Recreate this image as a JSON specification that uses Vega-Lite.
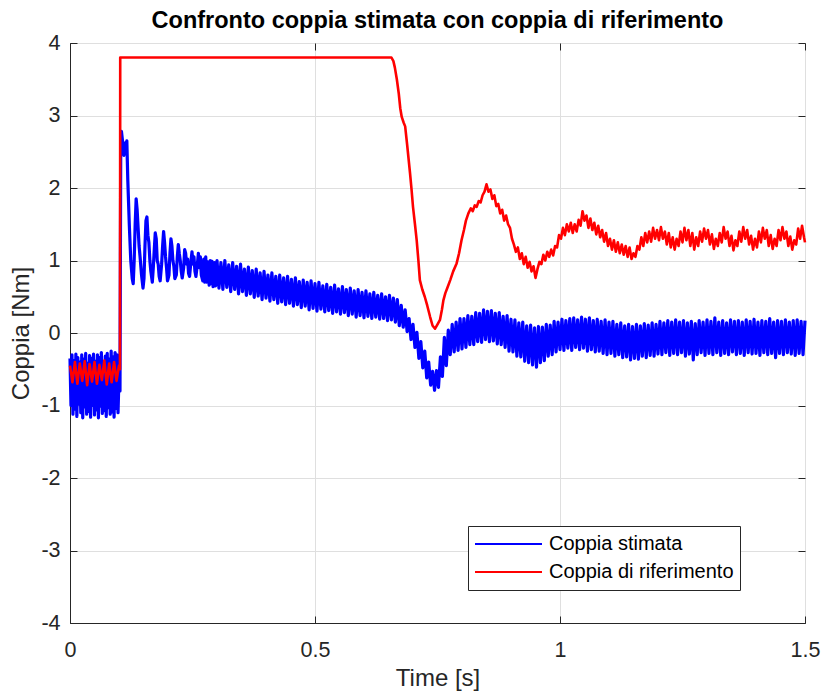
{
  "$schema": "https://vega.github.io/schema/vega-lite/v6.json",
  "width": 735,
  "height": 580,
  "autosize": {"type": "none"},
  "padding": {"left": 70, "top": 43, "right": 18, "bottom": 74},
  "background": "#ffffff",
  "title": {"text": "Confronto coppia stimata con coppia di riferimento", "fontSize": 23.5, "fontWeight": "bold", "color": "#000000", "font": "Liberation Sans", "offset": 0},
  "config": {
    "font": "Liberation Sans",
    "view": {"stroke": "#262626", "strokeWidth": 1},
    "axis": {"domainColor": "#262626", "tickColor": "#262626", "labelColor": "#262626", "titleColor": "#262626", "gridColor": "#dfdfdf", "gridWidth": 1, "labelFontSize": 21.5, "titleFontSize": 24, "titleFontWeight": "normal", "labelFont": "Liberation Sans", "titleFont": "Liberation Sans", "tickSize": -7, "labelFlush": false}
  },
  "resolve": {"axis": {"x": "independent", "y": "independent"}},
  "datasets": {
    "est": [
      {"t":0,"v":-0.35},{"t":0.002,"v":-1.0},{"t":0.004,"v":-0.3},{"t":0.006,"v":-1.12},{"t":0.008,"v":-0.38},{"t":0.01,"v":-1.05},{"t":0.012,"v":-0.29},{"t":0.014,"v":-1.15},{"t":0.016,"v":-0.34},{"t":0.018,"v":-0.98},{"t":0.02,"v":-0.4},{"t":0.022,"v":-1.1},{"t":0.024,"v":-0.3},{"t":0.026,"v":-1.17},{"t":0.028,"v":-0.36},{"t":0.03,"v":-1.02},{"t":0.032,"v":-0.28},{"t":0.034,"v":-1.12},{"t":0.036,"v":-0.42},{"t":0.038,"v":-1.08},{"t":0.04,"v":-0.31},{"t":0.042,"v":-1.16},{"t":0.044,"v":-0.35},{"t":0.046,"v":-1.0},{"t":0.048,"v":-0.29},{"t":0.05,"v":-1.13},{"t":0.052,"v":-0.39},{"t":0.054,"v":-1.06},{"t":0.056,"v":-0.3},{"t":0.058,"v":-1.17},{"t":0.06,"v":-0.34},{"t":0.062,"v":-1.01},{"t":0.064,"v":-0.27},{"t":0.066,"v":-1.11},{"t":0.068,"v":-0.41},{"t":0.07,"v":-1.07},{"t":0.072,"v":-0.32},{"t":0.074,"v":-1.15},{"t":0.076,"v":-0.28},{"t":0.078,"v":-1.03},{"t":0.08,"v":-0.36},{"t":0.082,"v":-1.12},{"t":0.084,"v":-0.25},{"t":0.086,"v":-1.09},{"t":0.088,"v":-0.33},{"t":0.09,"v":-1.16},{"t":0.092,"v":-0.27},{"t":0.094,"v":-1.04},{"t":0.096,"v":-0.3},{"t":0.098,"v":-1.1},{"t":0.1,"v":-0.6},{"t":0.102,"v":-0.8},
      {"t":0.1035,"v":2.5},{"t":0.105,"v":2.78},{"t":0.108,"v":2.6},{"t":0.11,"v":2.45},{"t":0.112,"v":2.62},{"t":0.114,"v":2.55},{"t":0.116,"v":2.65},{"t":0.118,"v":2.1},{"t":0.121,"v":1.5},{"t":0.124,"v":1.0},{"t":0.127,"v":0.75},{"t":0.129,"v":0.68},{"t":0.131,"v":1.0},{"t":0.133,"v":1.5},{"t":0.135,"v":1.85},{"t":0.137,"v":1.7},{"t":0.139,"v":1.45},{"t":0.141,"v":1.2},{"t":0.143,"v":1.05},{"t":0.146,"v":0.8},{"t":0.149,"v":0.62},{"t":0.151,"v":0.75},{"t":0.153,"v":1.2},{"t":0.155,"v":1.55},{"t":0.157,"v":1.6},{"t":0.159,"v":1.35},{"t":0.161,"v":1.25},{"t":0.163,"v":1.0},{"t":0.165,"v":0.85},{"t":0.168,"v":0.7},{"t":0.17,"v":0.9},{"t":0.172,"v":1.15},{"t":0.174,"v":1.38},{"t":0.176,"v":1.3},{"t":0.178,"v":1.0},{"t":0.18,"v":0.95},{"t":0.182,"v":0.78},{"t":0.184,"v":0.72},{"t":0.187,"v":0.95},{"t":0.189,"v":1.2},{"t":0.191,"v":1.4},{"t":0.193,"v":1.25},{"t":0.195,"v":1.05},{"t":0.197,"v":0.9},{"t":0.199,"v":0.72},{"t":0.202,"v":0.8},{"t":0.204,"v":1.1},{"t":0.206,"v":1.3},{"t":0.208,"v":1.2},{"t":0.21,"v":1.0},{"t":0.212,"v":0.92},{"t":0.214,"v":0.75},{"t":0.217,"v":0.8},{"t":0.219,"v":1.05},{"t":0.221,"v":1.22},{"t":0.223,"v":1.1},{"t":0.225,"v":1.0},{"t":0.227,"v":0.85},{"t":0.229,"v":0.76},{"t":0.232,"v":0.9},{"t":0.234,"v":1.15},{"t":0.236,"v":1.1},{"t":0.238,"v":0.95},{"t":0.24,"v":1.02},{"t":0.242,"v":0.82},{"t":0.244,"v":0.78},{"t":0.247,"v":1.0},{"t":0.249,"v":1.12},{"t":0.251,"v":0.95},{"t":0.253,"v":1.05},{"t":0.255,"v":0.85},{"t":0.257,"v":0.78},{"t":0.26,"v":0.95},{"t":0.262,"v":1.1},{"t":0.264,"v":0.9},{"t":0.266,"v":1.05},{"t":0.268,"v":0.8},{"t":0.271,"v":0.72},{"t":0.273,"v":1.02},{"t":0.275,"v":0.7},{"t":0.277,"v":1.05},{"t":0.279,"v":0.7},{"t":0.281,"v":0.98},{"t":0.284,"v":0.66},{"t":0.286,"v":1.0},{"t":0.288,"v":0.68},{"t":0.29,"v":0.99},{"t":0.292,"v":0.64},{"t":0.295,"v":0.97},{"t":0.297,"v":0.65},
      {"t":0.3,"v":1.0},{"t":0.304,"v":0.62},{"t":0.308,"v":0.97},{"t":0.312,"v":0.6},{"t":0.316,"v":1.0},{"t":0.32,"v":0.63},{"t":0.324,"v":0.94},{"t":0.328,"v":0.57},{"t":0.332,"v":0.97},{"t":0.336,"v":0.6},{"t":0.34,"v":0.92},{"t":0.344,"v":0.54},{"t":0.348,"v":0.95},{"t":0.352,"v":0.57},{"t":0.356,"v":0.88},{"t":0.36,"v":0.52},{"t":0.364,"v":0.91},{"t":0.368,"v":0.54},{"t":0.372,"v":0.86},{"t":0.376,"v":0.49},{"t":0.38,"v":0.88},{"t":0.384,"v":0.51},{"t":0.388,"v":0.83},{"t":0.392,"v":0.46},{"t":0.396,"v":0.85},{"t":0.4,"v":0.48},{"t":0.404,"v":0.8},{"t":0.408,"v":0.44},{"t":0.412,"v":0.83},{"t":0.416,"v":0.46},{"t":0.42,"v":0.78},{"t":0.424,"v":0.41},{"t":0.428,"v":0.8},{"t":0.432,"v":0.43},{"t":0.436,"v":0.76},{"t":0.44,"v":0.39},{"t":0.444,"v":0.78},{"t":0.448,"v":0.41},{"t":0.452,"v":0.74},{"t":0.456,"v":0.37},{"t":0.46,"v":0.76},{"t":0.464,"v":0.39},{"t":0.468,"v":0.71},{"t":0.472,"v":0.35},{"t":0.476,"v":0.73},{"t":0.48,"v":0.37},{"t":0.484,"v":0.7},{"t":0.488,"v":0.32},{"t":0.492,"v":0.72},{"t":0.496,"v":0.34},{"t":0.5,"v":0.68},{"t":0.504,"v":0.3},{"t":0.508,"v":0.7},{"t":0.512,"v":0.33},{"t":0.516,"v":0.65},{"t":0.52,"v":0.29},{"t":0.524,"v":0.67},{"t":0.528,"v":0.31},{"t":0.532,"v":0.63},{"t":0.536,"v":0.27},{"t":0.54,"v":0.66},{"t":0.544,"v":0.29},{"t":0.548,"v":0.61},{"t":0.552,"v":0.26},{"t":0.556,"v":0.64},{"t":0.56,"v":0.28},{"t":0.564,"v":0.6},{"t":0.568,"v":0.24},{"t":0.572,"v":0.62},{"t":0.576,"v":0.26},{"t":0.58,"v":0.58},{"t":0.584,"v":0.22},{"t":0.588,"v":0.6},{"t":0.592,"v":0.24},{"t":0.596,"v":0.56},{"t":0.6,"v":0.21},{"t":0.604,"v":0.58},{"t":0.608,"v":0.23},{"t":0.612,"v":0.54},{"t":0.616,"v":0.2},{"t":0.62,"v":0.56},{"t":0.624,"v":0.22},{"t":0.628,"v":0.52},{"t":0.632,"v":0.19},{"t":0.636,"v":0.54},{"t":0.64,"v":0.2},{"t":0.644,"v":0.5},{"t":0.648,"v":0.17},{"t":0.652,"v":0.52},{"t":0.656,"v":0.18},{"t":0.66,"v":0.48},
      {"t":0.664,"v":0.15},{"t":0.668,"v":0.46},{"t":0.672,"v":0.1},{"t":0.676,"v":0.38},{"t":0.68,"v":0.08},{"t":0.684,"v":0.32},{"t":0.688,"v":0.02},{"t":0.692,"v":0.2},{"t":0.696,"v":-0.09},{"t":0.7,"v":0.12},{"t":0.704,"v":-0.2},{"t":0.708,"v":0.01},{"t":0.712,"v":-0.35},{"t":0.716,"v":-0.12},{"t":0.72,"v":-0.48},{"t":0.724,"v":-0.25},{"t":0.728,"v":-0.62},{"t":0.732,"v":-0.4},{"t":0.736,"v":-0.72},{"t":0.74,"v":-0.53},{"t":0.744,"v":-0.79},{"t":0.748,"v":-0.52},{"t":0.752,"v":-0.75},{"t":0.756,"v":-0.33},{"t":0.76,"v":-0.6},{"t":0.764,"v":-0.06},{"t":0.768,"v":-0.45},{"t":0.772,"v":0.04},{"t":0.776,"v":-0.3},{"t":0.78,"v":0.12},{"t":0.784,"v":-0.26},{"t":0.788,"v":0.15},{"t":0.792,"v":-0.24},{"t":0.796,"v":0.2},{"t":0.8,"v":-0.22},{"t":0.804,"v":0.2},{"t":0.808,"v":-0.2},{"t":0.812,"v":0.24},{"t":0.816,"v":-0.16},{"t":0.82,"v":0.23},{"t":0.824,"v":-0.16},{"t":0.828,"v":0.28},{"t":0.832,"v":-0.12},{"t":0.836,"v":0.27},{"t":0.84,"v":-0.13},{"t":0.844,"v":0.32},{"t":0.848,"v":-0.09},{"t":0.852,"v":0.3},{"t":0.856,"v":-0.12},{"t":0.86,"v":0.31},{"t":0.864,"v":-0.11},{"t":0.868,"v":0.27},{"t":0.872,"v":-0.15},{"t":0.876,"v":0.28},{"t":0.88,"v":-0.16},{"t":0.884,"v":0.23},{"t":0.888,"v":-0.2},{"t":0.892,"v":0.24},{"t":0.896,"v":-0.25},{"t":0.9,"v":0.19},{"t":0.904,"v":-0.26},{"t":0.908,"v":0.18},{"t":0.912,"v":-0.32},{"t":0.916,"v":0.14},{"t":0.92,"v":-0.33},{"t":0.924,"v":0.15},{"t":0.928,"v":-0.39},{"t":0.932,"v":0.1},{"t":0.936,"v":-0.41},{"t":0.94,"v":0.11},{"t":0.944,"v":-0.44},{"t":0.948,"v":0.07},{"t":0.952,"v":-0.47},{"t":0.956,"v":0.09},{"t":0.96,"v":-0.41},{"t":0.964,"v":0.08},{"t":0.968,"v":-0.38},{"t":0.972,"v":0.12},{"t":0.976,"v":-0.32},{"t":0.98,"v":0.11},{"t":0.984,"v":-0.3},{"t":0.988,"v":0.16},{"t":0.992,"v":-0.26},{"t":0.996,"v":0.15},{"t":1.0,"v":-0.23},
      {"t":1.004,"v":0.19},{"t":1.008,"v":-0.24},{"t":1.012,"v":0.17},{"t":1.016,"v":-0.21},{"t":1.02,"v":0.2},{"t":1.024,"v":-0.24},{"t":1.028,"v":0.21},{"t":1.032,"v":-0.2},{"t":1.036,"v":0.18},{"t":1.04,"v":-0.23},{"t":1.044,"v":0.22},{"t":1.048,"v":-0.21},{"t":1.052,"v":0.19},{"t":1.056,"v":-0.25},{"t":1.06,"v":0.21},{"t":1.064,"v":-0.23},{"t":1.068,"v":0.17},{"t":1.072,"v":-0.26},{"t":1.076,"v":0.19},{"t":1.08,"v":-0.25},{"t":1.084,"v":0.16},{"t":1.088,"v":-0.28},{"t":1.092,"v":0.18},{"t":1.096,"v":-0.3},{"t":1.1,"v":0.15},{"t":1.104,"v":-0.28},{"t":1.108,"v":0.16},{"t":1.112,"v":-0.32},{"t":1.116,"v":0.12},{"t":1.12,"v":-0.3},{"t":1.124,"v":0.14},{"t":1.128,"v":-0.34},{"t":1.132,"v":0.1},{"t":1.136,"v":-0.33},{"t":1.14,"v":0.12},{"t":1.144,"v":-0.37},{"t":1.148,"v":0.09},{"t":1.152,"v":-0.35},{"t":1.156,"v":0.12},{"t":1.16,"v":-0.36},{"t":1.164,"v":0.1},{"t":1.168,"v":-0.32},{"t":1.172,"v":0.13},{"t":1.176,"v":-0.34},{"t":1.18,"v":0.11},{"t":1.184,"v":-0.31},{"t":1.188,"v":0.14},{"t":1.192,"v":-0.32},{"t":1.196,"v":0.12},{"t":1.2,"v":-0.29},
      {"t":1.204,"v":0.16},{"t":1.208,"v":-0.3},{"t":1.212,"v":0.14},{"t":1.216,"v":-0.27},{"t":1.22,"v":0.17},{"t":1.224,"v":-0.31},{"t":1.228,"v":0.15},{"t":1.232,"v":-0.28},{"t":1.236,"v":0.18},{"t":1.24,"v":-0.3},{"t":1.244,"v":0.15},{"t":1.248,"v":-0.27},{"t":1.252,"v":0.17},{"t":1.256,"v":-0.32},{"t":1.26,"v":0.14},{"t":1.264,"v":-0.29},{"t":1.268,"v":0.16},{"t":1.272,"v":-0.37},{"t":1.276,"v":0.13},{"t":1.28,"v":-0.3},{"t":1.284,"v":0.17},{"t":1.288,"v":-0.27},{"t":1.292,"v":0.15},{"t":1.296,"v":-0.31},{"t":1.3,"v":0.18},{"t":1.304,"v":-0.28},{"t":1.308,"v":0.16},{"t":1.312,"v":-0.3},{"t":1.316,"v":0.21},{"t":1.32,"v":-0.27},{"t":1.324,"v":0.15},{"t":1.328,"v":-0.31},{"t":1.332,"v":0.17},{"t":1.336,"v":-0.28},{"t":1.34,"v":0.14},{"t":1.344,"v":-0.3},{"t":1.348,"v":0.18},{"t":1.352,"v":-0.26},{"t":1.356,"v":0.16},{"t":1.36,"v":-0.3},{"t":1.364,"v":0.17},{"t":1.368,"v":-0.28},{"t":1.372,"v":0.15},{"t":1.376,"v":-0.31},{"t":1.38,"v":0.18},{"t":1.384,"v":-0.27},{"t":1.388,"v":0.16},{"t":1.392,"v":-0.29},{"t":1.396,"v":0.19},{"t":1.4,"v":-0.28},{"t":1.404,"v":0.15},{"t":1.408,"v":-0.31},{"t":1.412,"v":0.17},{"t":1.416,"v":-0.27},{"t":1.42,"v":0.16},{"t":1.424,"v":-0.3},{"t":1.428,"v":0.2},{"t":1.432,"v":-0.28},{"t":1.436,"v":0.15},{"t":1.44,"v":-0.34},{"t":1.444,"v":0.17},{"t":1.448,"v":-0.28},{"t":1.452,"v":0.16},{"t":1.456,"v":-0.3},{"t":1.46,"v":0.18},{"t":1.464,"v":-0.27},{"t":1.468,"v":0.15},{"t":1.472,"v":-0.29},{"t":1.476,"v":0.17},{"t":1.48,"v":-0.31},{"t":1.484,"v":0.18},{"t":1.488,"v":-0.28},{"t":1.492,"v":0.16},{"t":1.496,"v":-0.3},{"t":1.5,"v":0.17}
    ],
    "ref": [
      {"t":0,"v":-0.45},{"t":0.005,"v":-0.68},{"t":0.01,"v":-0.4},{"t":0.015,"v":-0.7},{"t":0.02,"v":-0.42},{"t":0.025,"v":-0.66},{"t":0.03,"v":-0.39},{"t":0.035,"v":-0.72},{"t":0.04,"v":-0.43},{"t":0.045,"v":-0.67},{"t":0.05,"v":-0.4},{"t":0.055,"v":-0.7},{"t":0.06,"v":-0.44},{"t":0.065,"v":-0.65},{"t":0.07,"v":-0.38},{"t":0.075,"v":-0.71},{"t":0.08,"v":-0.42},{"t":0.085,"v":-0.68},{"t":0.09,"v":-0.4},{"t":0.095,"v":-0.66},{"t":0.1,"v":-0.45},{"t":0.102,"v":-0.5},{"t":0.1025,"v":3.8},{"t":0.656,"v":3.8},
      {"t":0.66,"v":3.75},{"t":0.663,"v":3.66},{"t":0.667,"v":3.5},{"t":0.671,"v":3.3},{"t":0.674,"v":3.1},{"t":0.677,"v":2.98},{"t":0.681,"v":2.9},{"t":0.684,"v":2.85},{"t":0.688,"v":2.6},{"t":0.691,"v":2.4},{"t":0.694,"v":2.2},{"t":0.697,"v":1.98},{"t":0.7,"v":1.74},{"t":0.704,"v":1.5},{"t":0.7075,"v":1.28},{"t":0.711,"v":1.0},{"t":0.714,"v":0.73},{"t":0.719,"v":0.6},{"t":0.724,"v":0.5},{"t":0.729,"v":0.38},{"t":0.735,"v":0.22},{"t":0.74,"v":0.1},{"t":0.745,"v":0.06},{"t":0.75,"v":0.12},{"t":0.755,"v":0.18},{"t":0.759,"v":0.32},{"t":0.762,"v":0.45},{"t":0.766,"v":0.55},{"t":0.77,"v":0.62},{"t":0.776,"v":0.73},{"t":0.782,"v":0.85},{"t":0.789,"v":0.96},{"t":0.794,"v":1.1},{"t":0.799,"v":1.28},{"t":0.804,"v":1.42},{"t":0.808,"v":1.55},{"t":0.813,"v":1.65},{"t":0.818,"v":1.72},{"t":0.822,"v":1.68},{"t":0.826,"v":1.76},{"t":0.83,"v":1.74},{"t":0.834,"v":1.82},{"t":0.838,"v":1.8},{"t":0.842,"v":1.9},{"t":0.846,"v":1.95},{"t":0.85,"v":2.05},{"t":0.854,"v":1.95},{"t":0.858,"v":1.98},{"t":0.862,"v":1.85},{"t":0.866,"v":1.9},{"t":0.87,"v":1.75},{"t":0.874,"v":1.78},{"t":0.878,"v":1.65},{"t":0.882,"v":1.7},{"t":0.886,"v":1.55},{"t":0.89,"v":1.62},{"t":0.894,"v":1.5},{"t":0.898,"v":1.45},{"t":0.902,"v":1.3},{"t":0.906,"v":1.22},{"t":0.91,"v":1.12},{"t":0.914,"v":1.18},{"t":0.918,"v":1.02},{"t":0.922,"v":1.1},{"t":0.926,"v":0.95},{"t":0.93,"v":1.05},{"t":0.934,"v":0.9},{"t":0.938,"v":0.98},{"t":0.942,"v":0.85},{"t":0.946,"v":0.92},{"t":0.95,"v":0.76},{"t":0.954,"v":0.88},{"t":0.958,"v":0.98},{"t":0.962,"v":0.95},{"t":0.966,"v":1.08},{"t":0.97,"v":1.0},{"t":0.974,"v":1.12},{"t":0.978,"v":1.05},{"t":0.982,"v":1.15},{"t":0.986,"v":1.07},{"t":0.99,"v":1.2},{"t":0.994,"v":1.18},{"t":0.998,"v":1.35},
      {"t":1.002,"v":1.3},{"t":1.006,"v":1.45},{"t":1.01,"v":1.35},{"t":1.014,"v":1.5},{"t":1.018,"v":1.4},{"t":1.022,"v":1.52},{"t":1.026,"v":1.38},{"t":1.03,"v":1.5},{"t":1.034,"v":1.4},{"t":1.038,"v":1.56},{"t":1.042,"v":1.48},{"t":1.046,"v":1.68},{"t":1.05,"v":1.55},{"t":1.054,"v":1.62},{"t":1.058,"v":1.45},{"t":1.062,"v":1.58},{"t":1.066,"v":1.42},{"t":1.07,"v":1.52},{"t":1.074,"v":1.36},{"t":1.078,"v":1.48},{"t":1.082,"v":1.32},{"t":1.086,"v":1.42},{"t":1.09,"v":1.26},{"t":1.094,"v":1.38},{"t":1.098,"v":1.2},{"t":1.102,"v":1.3},{"t":1.106,"v":1.15},{"t":1.11,"v":1.28},{"t":1.114,"v":1.12},{"t":1.118,"v":1.25},{"t":1.122,"v":1.1},{"t":1.126,"v":1.22},{"t":1.13,"v":1.08},{"t":1.134,"v":1.2},{"t":1.138,"v":1.05},{"t":1.142,"v":1.18},{"t":1.146,"v":1.02},{"t":1.15,"v":1.1},{"t":1.154,"v":1.05},{"t":1.158,"v":1.2},{"t":1.162,"v":1.15},{"t":1.166,"v":1.32},{"t":1.17,"v":1.2},{"t":1.174,"v":1.38},{"t":1.178,"v":1.25},{"t":1.182,"v":1.4},{"t":1.186,"v":1.26},{"t":1.19,"v":1.45},{"t":1.194,"v":1.3},{"t":1.198,"v":1.42},{"t":1.202,"v":1.28},{"t":1.206,"v":1.46},{"t":1.21,"v":1.3},{"t":1.214,"v":1.4},{"t":1.218,"v":1.22},{"t":1.222,"v":1.38},{"t":1.226,"v":1.18},{"t":1.23,"v":1.32},{"t":1.234,"v":1.15},{"t":1.238,"v":1.3},{"t":1.242,"v":1.2},{"t":1.246,"v":1.4},{"t":1.25,"v":1.25},{"t":1.254,"v":1.45},{"t":1.258,"v":1.28},{"t":1.262,"v":1.42},{"t":1.266,"v":1.2},{"t":1.27,"v":1.38},{"t":1.274,"v":1.15},{"t":1.278,"v":1.32},{"t":1.282,"v":1.2},{"t":1.286,"v":1.4},{"t":1.29,"v":1.26},{"t":1.294,"v":1.44},{"t":1.298,"v":1.3},{"t":1.302,"v":1.42},{"t":1.306,"v":1.22},{"t":1.31,"v":1.36},{"t":1.314,"v":1.16},{"t":1.318,"v":1.3},{"t":1.322,"v":1.2},{"t":1.326,"v":1.38},{"t":1.33,"v":1.25},{"t":1.334,"v":1.46},{"t":1.338,"v":1.3},{"t":1.342,"v":1.4},{"t":1.346,"v":1.2},{"t":1.35,"v":1.34},{"t":1.354,"v":1.14},{"t":1.358,"v":1.28},{"t":1.362,"v":1.2},{"t":1.366,"v":1.4},{"t":1.37,"v":1.26},{"t":1.374,"v":1.46},{"t":1.378,"v":1.3},{"t":1.382,"v":1.42},{"t":1.386,"v":1.22},{"t":1.39,"v":1.34},{"t":1.394,"v":1.15},{"t":1.398,"v":1.3},{"t":1.402,"v":1.18},{"t":1.406,"v":1.4},{"t":1.41,"v":1.25},{"t":1.414,"v":1.45},{"t":1.418,"v":1.3},{"t":1.422,"v":1.42},{"t":1.426,"v":1.2},{"t":1.43,"v":1.35},{"t":1.434,"v":1.16},{"t":1.438,"v":1.3},{"t":1.442,"v":1.2},{"t":1.446,"v":1.42},{"t":1.45,"v":1.28},{"t":1.454,"v":1.46},{"t":1.458,"v":1.3},{"t":1.462,"v":1.4},{"t":1.466,"v":1.2},{"t":1.47,"v":1.33},{"t":1.474,"v":1.15},{"t":1.478,"v":1.28},{"t":1.482,"v":1.22},{"t":1.486,"v":1.44},{"t":1.49,"v":1.3},{"t":1.494,"v":1.48},{"t":1.498,"v":1.32},{"t":1.5,"v":1.25}
    ]
  },
  "encoding": {
    "color": {"scale": {"domain": ["Coppia stimata", "Coppia di riferimento"], "range": ["#0000ff", "#ff0000"]},
      "legend": {"title": null, "orient": "none", "legendX": 398, "legendY": 483, "symbolType": "stroke", "symbolSize": 4489, "symbolStrokeWidth": 2, "clipHeight": 24, "rowPadding": 4, "labelFontSize": 20, "labelLimit": 0, "labelColor": "#000000", "labelOffset": 6, "padding": 6, "strokeColor": "#262626", "fillColor": "#ffffff", "cornerRadius": 0}}
  },
  "layer": [
    {"data": {"name": "est"}, "mark": {"type": "line", "strokeWidth": 3.2, "strokeJoin": "round"},
     "encoding": {
       "x": {"field": "t", "type": "quantitative", "scale": {"domain": [0, 1.5], "nice": false, "zero": false}, "axis": {"values": [0, 0.5, 1, 1.5], "labelExpr": "'' + datum.value", "title": "Time [s]", "labelPadding": 23, "titlePadding": 6}},
       "y": {"field": "v", "type": "quantitative", "scale": {"domain": [-4, 4], "nice": false}, "axis": {"values": [-4, -3, -2, -1, 0, 1, 2, 3, 4], "labelExpr": "'' + datum.value", "title": "Coppia [Nm]", "labelPadding": 17, "titlePadding": 7}},
       "color": {"datum": "Coppia stimata"}}},
    {"data": {"name": "ref"}, "mark": {"type": "line", "strokeWidth": 2.6, "strokeJoin": "round"},
     "encoding": {
       "x": {"field": "t", "type": "quantitative", "axis": {"orient": "top", "values": [0, 0.5, 1, 1.5], "labels": false, "title": null, "grid": false, "domain": false}},
       "y": {"field": "v", "type": "quantitative", "axis": {"orient": "right", "values": [-4, -3, -2, -1, 0, 1, 2, 3, 4], "labels": false, "title": null, "grid": false, "domain": false}},
       "color": {"datum": "Coppia di riferimento"}}}
  ]
}
